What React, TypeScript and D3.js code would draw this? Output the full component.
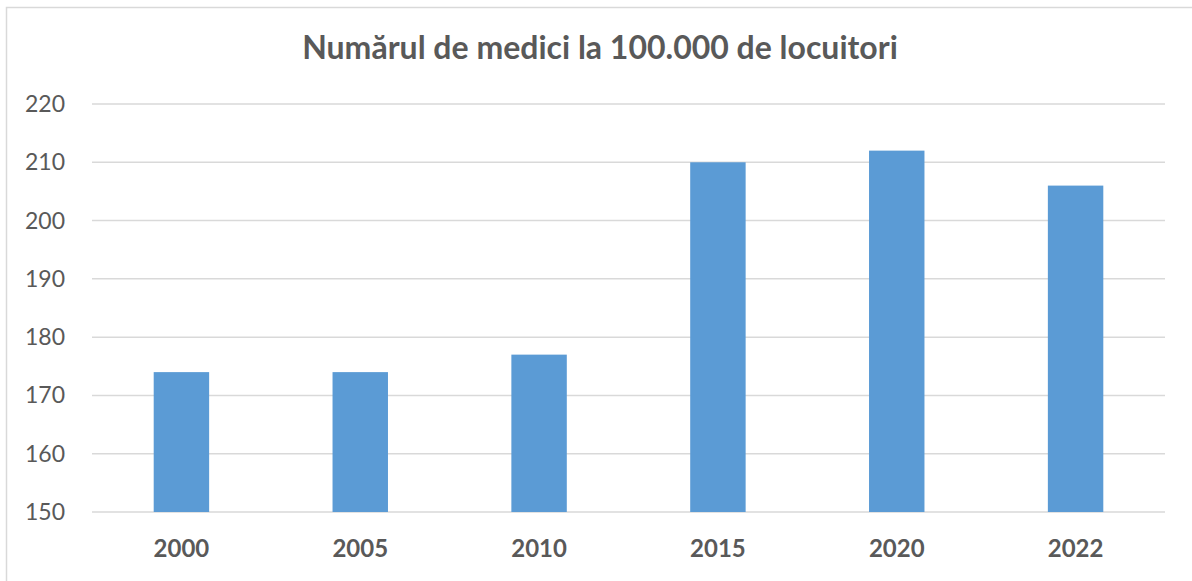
import React from 'react';
import * as d3 from 'd3';

const title = 'Numărul de medici la 100.000 de locuitori';
const years = ['2000', '2005', '2010', '2015', '2020', '2022'];
const doctors = [174, 174, 177, 210, 212, 206];
const yTicks = [150, 160, 170, 180, 190, 200, 210, 220];

const W = 1192;
const H = 581;
const margin = { left: 92, right: 27, top: 104, bottom: 69 };

const App = () => {
  const x = d3.scaleBand()
    .domain(years)
    .range([margin.left, W - margin.right])
    .paddingInner(0.69)
    .paddingOuter(0.345);

  const y = d3.scaleLinear()
    .domain([150, 220])
    .range([H - margin.bottom, margin.top]);

  const textColor = '#595959';
  const font = 'Lato, "Open Sans", sans-serif';

  return (
    <svg width={W} height={H} style={{ position: 'absolute', left: 0, top: 0 }}>
      <rect x={0} y={0} width={W} height={H} fill="#fff" />
      {/* chart frame, cut off at right and bottom */}
      <rect x={6.5} y={7.5} width={W + 10} height={H + 10} fill="none" stroke="#d9d9d9" strokeWidth={1.5} />

      <text x={600} y={59} textAnchor="middle" fontFamily={font} fontWeight="bold" fontSize={32} fill={textColor}>
        {title}
      </text>

      {yTicks.map(t => (
        <g key={t}>
          <line x1={margin.left} x2={W - margin.right} y1={y(t)} y2={y(t)} stroke="#d9d9d9" strokeWidth={1.5} />
          <text x={65} y={y(t)} dy="0.35em" textAnchor="end" fontFamily={font} fontSize={23} fill={textColor}>
            {t}
          </text>
        </g>
      ))}

      {years.map((yr, i) => (
        <rect
          key={yr}
          x={x(yr)}
          y={y(doctors[i])}
          width={x.bandwidth()}
          height={y(150) - y(doctors[i])}
          fill="#5b9bd5"
        />
      ))}

      {years.map(yr => (
        <text
          key={yr}
          x={(x(yr) as number) + x.bandwidth() / 2}
          y={549}
          dy="0.35em"
          textAnchor="middle"
          fontFamily={font}
          fontWeight="bold"
          fontSize={24}
          fill={textColor}
        >
          {yr}
        </text>
      ))}
    </svg>
  );
};

export default App;
